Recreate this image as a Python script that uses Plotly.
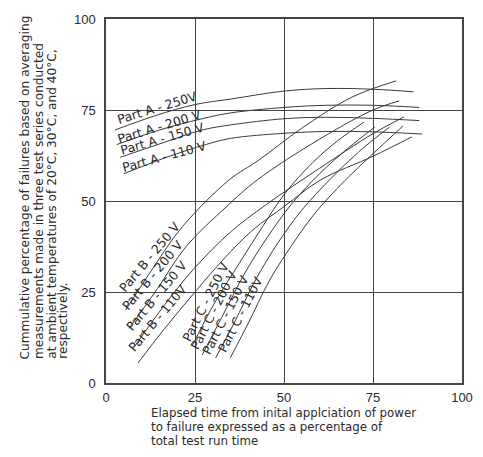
import plotly.graph_objects as go

# ---------------- data ----------------
A250_x = [2.5, 14, 25, 35, 50, 62, 75, 86.4]
A250_y = [69.5, 73.5, 76.5, 78.0, 80.2, 80.9, 80.7, 80.0]
A200_x = [3, 15, 27, 35, 50, 62, 75, 88]
A200_y = [65.5, 69.5, 72.6, 74.2, 75.7, 76.3, 76.3, 75.7]
A150_x = [4, 16, 27, 35, 50, 62, 75, 88]
A150_y = [62.0, 66.0, 69.5, 70.9, 72.6, 73.0, 72.7, 72.1]
A110_x = [5, 17, 28, 35, 50, 62, 75, 88.8]
A110_y = [57.5, 62.0, 65.5, 67.2, 68.6, 69.1, 69.0, 68.4]

B250_x = [5.5, 13.5, 21.5, 34.6, 43, 55, 69, 81.5]
B250_y = [20.0, 32.0, 43.0, 55.8, 61.3, 70.0, 78.5, 83.0]
B200_x = [6.5, 14.5, 22.5, 33.8, 42.5, 60, 75, 82.4]
B200_y = [15.0, 26.0, 37.5, 48.4, 55.8, 67.0, 75.0, 77.5]
B150_x = [8.0, 16.5, 24.8, 35, 45, 60, 75, 83.7]
B150_y = [10.0, 21.5, 31.5, 41.5, 49.0, 59.0, 68.5, 73.1]
B110_x = [9.0, 16.5, 25, 33, 41.2, 50.2, 60.3, 75, 85.9]
B110_y = [5.5, 15.0, 25.0, 34.0, 42.0, 48.6, 55.8, 62.3, 67.6]

C250_x = [24.2, 30.5, 37.5, 44, 50.2, 58, 65, 72.5]
C250_y = [10.2, 22.0, 33.0, 43.0, 52.0, 60.5, 66.5, 71.7]
C200_x = [27.0, 32.5, 39, 45.3, 52, 60, 68, 75.5]
C200_y = [7.7, 18.0, 30.2, 40.0, 49.0, 57.5, 64.5, 70.3]
C150_x = [30.8, 36, 42, 48.3, 55, 63, 71, 79.6]
C150_y = [6.9, 16.5, 28.3, 38.5, 47.5, 56.0, 63.5, 70.3]
C110_x = [34.9, 40, 46, 52.3, 59, 67, 75, 83.4]
C110_y = [6.9, 16.5, 28.3, 38.0, 47.0, 55.5, 63.0, 70.6]

series = [
    (A250_x, A250_y), (A200_x, A200_y), (A150_x, A150_y), (A110_x, A110_y),
    (B250_x, B250_y), (B200_x, B200_y), (B150_x, B150_y), (B110_x, B110_y),
    (C250_x, C250_y), (C200_x, C200_y), (C150_x, C150_y), (C110_x, C110_y),
]

curve_labels = ["Part A - 250V", "Part A - 200 V", "Part A - 150 V", "Part A - 110 V",
                "Part B - 250 V", "Part B - 200 V", "Part B - 150 V", "Part B - 110V",
                "Part C - 250 V", "Part C - 200 V", "Part C - 150 V", "Part C - 110V"]
label_x = [14.5, 15.0, 15.8, 16.3, 12.3, 13.2, 14.2, 14.6, 28.0, 30.3, 33.6, 37.7]
label_y = [75.6, 70.6, 67.2, 62.3, 34.8, 29.8, 24.1, 18.0, 22.4, 20.2, 18.8, 18.8]
label_angle = [-17, -17, -16, -15, -50, -50, -50, -50, -63, -63, -63, -63]

tick_vals = [0, 25, 50, 75, 100]
tick_text = ["0", "25", "50", "75", "100"]

y_title_lines = ["Cummulative percentage of failures based on averaging",
                 "measurements made in three test series conducted",
                 "at ambient temperatures of 20°C, 30°C, and 40°C,",
                 "respectively."]
x_title_lines = ["Elapsed time from inital applciation of power",
                 "to failure expressed as a percentage of",
                 "total test run time"]

FONT = "Liberation Sans, Arial, sans-serif"
WIDE = "DejaVu Sans, Liberation Sans, sans-serif"
LINE_COL = "#3a3a3a"
GRID_COL = "#454545"
TXT_COL = "#2a2a2a"

fig = go.Figure()
for xs, ys in series:
    fig.add_trace(go.Scatter(x=xs, y=ys, mode="lines",
                             line=dict(color=LINE_COL, width=1, shape="spline", smoothing=1.0),
                             showlegend=False, hoverinfo="skip"))

annotations = []
for t, lx, ly, ang in zip(curve_labels, label_x, label_y, label_angle):
    annotations.append(dict(x=lx, y=ly, xref="x", yref="y", text=t, showarrow=False,
                            textangle=ang, font=dict(family=WIDE, size=12.5, color=TXT_COL),
                            xanchor="center", yanchor="middle"))

W, H = 483, 457
L, R, T, B = 106, 10, 19, 74
pw, ph = W - L - R, H - T - B

def px_to_paper(px, py):
    return (px - L) / pw, (H - B - py) / ph

y_line_px = [23, 37, 49.5, 61.5]
for t, xp in zip(y_title_lines, y_line_px):
    ax, ay = px_to_paper(xp, 360)
    annotations.append(dict(x=ax, y=ay, xref="paper", yref="paper", text=t, showarrow=False,
                            textangle=-90, font=dict(family=WIDE, size=12.2, color=TXT_COL),
                            xanchor="center", yanchor="bottom", borderpad=0))

x_line_py = [413, 427, 441]
for t, yp in zip(x_title_lines, x_line_py):
    ax, ay = px_to_paper(151, yp)
    annotations.append(dict(x=ax, y=ay, xref="paper", yref="paper", text=t, showarrow=False,
                            font=dict(family=WIDE, size=11.8, color=TXT_COL),
                            xanchor="left", yanchor="middle", borderpad=0))

axis_common = dict(range=[0, 100], tickvals=tick_vals, ticktext=tick_text,
                   showgrid=True, gridcolor=GRID_COL, gridwidth=1.3,
                   showline=True, linecolor=GRID_COL, linewidth=1.5, mirror=True,
                   zeroline=False, ticks="",
                   tickfont=dict(family=FONT, size=13, color=TXT_COL))

fig.update_layout(
    width=W, height=H,
    margin=dict(l=L, r=R, t=T, b=B),
    paper_bgcolor="white", plot_bgcolor="white",
    xaxis=dict(**axis_common, ticklabelstandoff=2),
    yaxis=dict(**axis_common, ticklabelstandoff=6),
    annotations=annotations,
    showlegend=False,
)

fig.write_html("out.html")
